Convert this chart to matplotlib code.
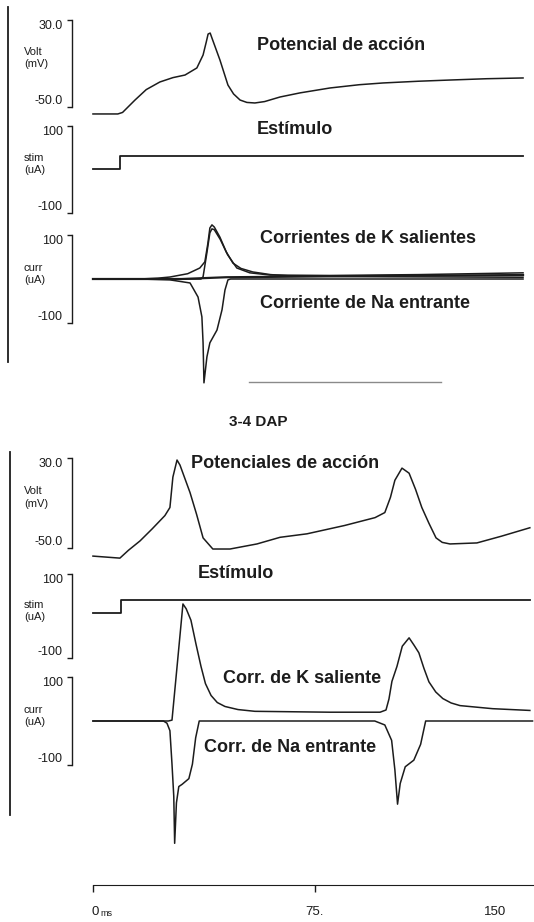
"""
Trazas simuladas de potencial de acción (sin / con 3-4 DAP)
- 2 bloques x 3 paneles: Volt, stim, curr
- eje de tiempo común abajo
"""
import matplotlib
matplotlib.use('Agg')
import matplotlib.pyplot as plt
from matplotlib.lines import Line2D
import matplotlib.transforms as mtransforms

plt.rcParams['font.family'] = ['Liberation Sans', 'DejaVu Sans']

INK  = '#1c1c1c'
GREY = '#8a8a8a'
W, H = 534, 922

# ── datos: bloque superior (control) ─────────────────────────
T_V1 = [0, 8.4, 10, 14.2, 18, 22.6, 27, 31.1, 35.1, 37.2, 38.3, 38.9, 39.6, 40.2,
        42.9, 45.6, 47.5, 49.7, 52, 54.7, 58, 63.2, 70, 80.1, 90, 98, 110, 120.6,
        133, 145.3]
V1   = [-56.4, -56.4, -55, -43.6, -34, -27, -23, -20.6, -14.1, -2.2, 10, 17.1, 18,
        13.4, -6.8, -29.8, -38, -43.6, -45.8, -46.3, -45, -40.8, -37, -32.5, -29.5,
        -27.9, -26.3, -25.2, -24, -23.3]

T_S1 = [0, 9, 9, 145.3]
S1   = [0, 0, 30, 30]

T_K1a = [0, 15.9, 22, 26, 32, 36.1, 37.8, 38.8, 39.5, 40.2, 41, 42.9, 45, 47.3,
         50, 54, 60, 66.6, 100, 145.3]
K1a   = [0, 0, 2, 4.5, 12, 25, 39, 80, 116, 123, 118, 95, 62, 36, 24, 16, 10, 7,
         5, 4]
T_K1b = [0, 36.5, 37.2, 38.5, 39.5, 40.2, 41, 43, 45.5, 48.6, 53, 59.8, 80, 110,
         145.3]
K1b   = [0, 0, 5, 60, 105, 114, 112, 90, 55, 25, 14, 9, 8, 10, 14]
T_K1c = [0, 30, 45, 80, 120, 145.3]
K1c   = [0, 0, 4, 6, 8, 9]

T_N1 = [0, 15.9, 26, 32.8, 35.5, 36.8, 37.2, 37.5, 38.5, 39.5, 41.9, 43.6, 44.6,
        45.6, 46.5, 145.3]
N1   = [0, 0, -2, -9, -41, -86, -145, -236, -177, -145, -116, -70, -25, -2, 0, 0]

SCALE_BAR_T = [52.7, 117.6]
SCALE_BAR_I = [-234, -234]

# ── datos: bloque inferior (3-4 DAP) ─────────────────────────
T_V2 = [0, 9.1, 12, 15.9, 20, 24.3, 26, 27, 28.4, 29.4, 32.8, 35, 37.2, 40.5,
        46.3, 55.4, 63.2, 72.3, 85, 95.3, 98.6, 100.5, 102, 104.4, 106.8, 109,
        111.1, 113.5, 115.9, 118, 120.6, 129.7, 138, 147.6]
V2   = [-57.2, -59, -52, -43.7, -33, -21.2, -14, 13, 28.2, 23.7, -0.8, -20, -41,
        -50.9, -50.9, -46.4, -40.5, -37.4, -30, -23, -18.5, -5, 10.2, 21, 16.5, 2,
        -14, -28, -41, -45, -46.4, -45.5, -39.5, -32]

T_S2 = [0, 9.4, 9.4, 147.6]
S2   = [6, 6, 37, 37]

T_K2 = [0, 25.5, 26.7, 28.5, 30.4, 31.5, 33.1, 34.8, 36.5, 38, 39.9, 42, 44.6,
        49, 54.7, 80, 97, 99, 100, 101, 102.7, 104.5, 106.8, 108.5, 110.1, 111.8,
        113.5, 115.8, 118.2, 121, 124, 135, 147.6]
K2   = [0, 0, 2, 130, 266, 255, 229, 175, 124, 85, 58, 42, 33, 26, 22, 20, 20, 25,
        50, 90, 124, 170, 189, 172, 155, 120, 89, 66, 51, 41, 35, 28, 24]

T_N2 = [0, 23.8, 25, 26, 26.7, 27.3, 27.6, 28.2, 29, 30.1, 32.4, 33.6, 34.7, 35.9,
        95.2, 98.6, 100.9, 102, 102.9, 103.8, 105.5, 108.4, 110.7, 112.4, 148.5]
N2   = [0, 0, -5, -22, -98, -171, -278, -186, -149, -144, -131, -98, -38, 0, 0, -9,
        -44, -111, -189, -142, -104, -89, -53, 0, 0]

TIME_TICKS  = [0, 75]
TIME_LABELS = ['75.', '150']
XLIM = (-1, 149)

fig = plt.figure(figsize=(W / 100, H / 100), dpi=100, facecolor='white')


def fx(x):
    return x / W


def fy(y):
    return 1 - y / H


def panel(top, bot, ylim, lab, ticklabs):
    ax = fig.add_axes([fx(90), fy(bot), fx(W) - fx(90), (bot - top) / H])
    ax.set_xlim(*XLIM)
    ax.set_ylim(*ylim)
    for s in ['top', 'right', 'bottom']:
        ax.spines[s].set_visible(False)
    ax.spines['left'].set_position(('outward', 13))
    ax.spines['left'].set_bounds(*ylim)
    ax.spines['left'].set_color(INK)
    ax.spines['left'].set_linewidth(1.0)
    ax.set_xticks([])
    ax.set_yticks(list(ylim))
    ax.set_yticklabels([])
    ax.tick_params(axis='y', direction='out', length=3.5, width=1.0, color=INK)
    ax.patch.set_alpha(0)
    tr = mtransforms.blended_transform_factory(fig.transFigure, ax.transData)
    ax.text(fx(63), ylim[1], ticklabs[1], transform=tr, ha='right', va='top',
            fontsize=9, color=INK)
    ax.text(fx(63), ylim[0], ticklabs[0], transform=tr, ha='right', va='bottom',
            fontsize=9, color=INK)
    ax.text(fx(24), 0.56, lab, transform=mtransforms.blended_transform_factory(
            fig.transFigure, ax.transAxes), ha='left', va='center',
            fontsize=8, color=INK, linespacing=1.3)
    return ax


def trace(ax, t, v, **kw):
    kw.setdefault('color', INK)
    kw.setdefault('lw', 1.1)
    ax.plot(t, v, clip_on=False, solid_joinstyle='round', **kw)


# ── bloque superior ──────────────────────────────────────────
axv1 = panel(20, 107, (-50, 30), 'Volt\n(mV)', ('-50.0', '30.0'))
axs1 = panel(126, 213, (-100, 100), 'stim\n(uA)', ('-100', '100'))
axc1 = panel(235, 323, (-100, 100), 'curr\n(uA)', ('-100', '100'))

trace(axv1, T_V1, V1)
trace(axs1, T_S1, S1, lw=1.3)
trace(axc1, T_N1, N1)
trace(axc1, T_K1c, K1c, lw=1.6)
trace(axc1, T_K1b, K1b)
trace(axc1, T_K1a, K1a)
trace(axc1, SCALE_BAR_T, SCALE_BAR_I, color=GREY, lw=1.0)

# ── bloque inferior ──────────────────────────────────────────
axv2 = panel(458, 548, (-50, 30), 'Volt\n(mV)', ('-50.0', '30.0'))
axs2 = panel(574, 658, (-100, 100), 'stim\n(uA)', ('-100', '100'))
axc2 = panel(677, 765, (-100, 100), 'curr\n(uA)', ('-100', '100'))

trace(axv2, T_V2, V2)
trace(axs2, T_S2, S2, lw=1.3)
trace(axc2, T_N2, N2)
trace(axc2, T_K2, K2)

# ── eje de tiempo ────────────────────────────────────────────
axt = fig.add_axes([fx(90), fy(885), fx(W) - fx(90), 0.001])
axt.set_xlim(*XLIM)
for s in ['top', 'right', 'left']:
    axt.spines[s].set_visible(False)
axt.spines['bottom'].set_bounds(0, XLIM[1])
axt.spines['bottom'].set_color(INK)
axt.set_yticks([])
axt.set_xticks(TIME_TICKS)
axt.set_xticklabels([])
axt.tick_params(axis='x', direction='out', length=5, width=1.0, color=INK)
axt.patch.set_alpha(0)

fig.text(fx(92), fy(912), '0', fontsize=9.5, ha='left', va='center', color=INK)
fig.text(fx(100), fy(913), 'ms', fontsize=6.5, ha='left', va='center', color=INK)
fig.text(fx(315), fy(912), TIME_LABELS[0], fontsize=9.5, ha='center', va='center', color=INK)
fig.text(fx(495), fy(912), TIME_LABELS[1], fontsize=9.5, ha='center', va='center', color=INK)

# ── barras verticales de cada bloque ─────────────────────────
fig.add_artist(Line2D([fx(8), fx(8)], [fy(7), fy(362)], color=INK, lw=1.3))
fig.add_artist(Line2D([fx(10), fx(10)], [fy(452), fy(815)], color=INK, lw=1.3))

# ── títulos ──────────────────────────────────────────────────
TB = dict(fontsize=13, fontweight='bold', color=INK, va='center', ha='left')
fig.text(fx(257), fy(45), 'Potencial de acción', **TB)
fig.text(fx(257), fy(130), 'Estímulo', **TB)
fig.text(fx(260), fy(238), 'Corrientes de K salientes', **TB)
fig.text(fx(260), fy(303), 'Corriente de Na entrante', **TB)
fig.text(fx(258), fy(422), '3-4 DAP', fontsize=11, fontweight='bold', color=INK,
         ha='center', va='center')
fig.text(fx(191), fy(463), 'Potenciales de acción', **TB)
fig.text(fx(198), fy(573), 'Estímulo', **TB)
fig.text(fx(223), fy(678), 'Corr. de K saliente', **TB)
fig.text(fx(204), fy(747), 'Corr. de Na entrante', **TB)

fig.savefig('out.png', dpi=100, facecolor='white')
plt.close(fig)
